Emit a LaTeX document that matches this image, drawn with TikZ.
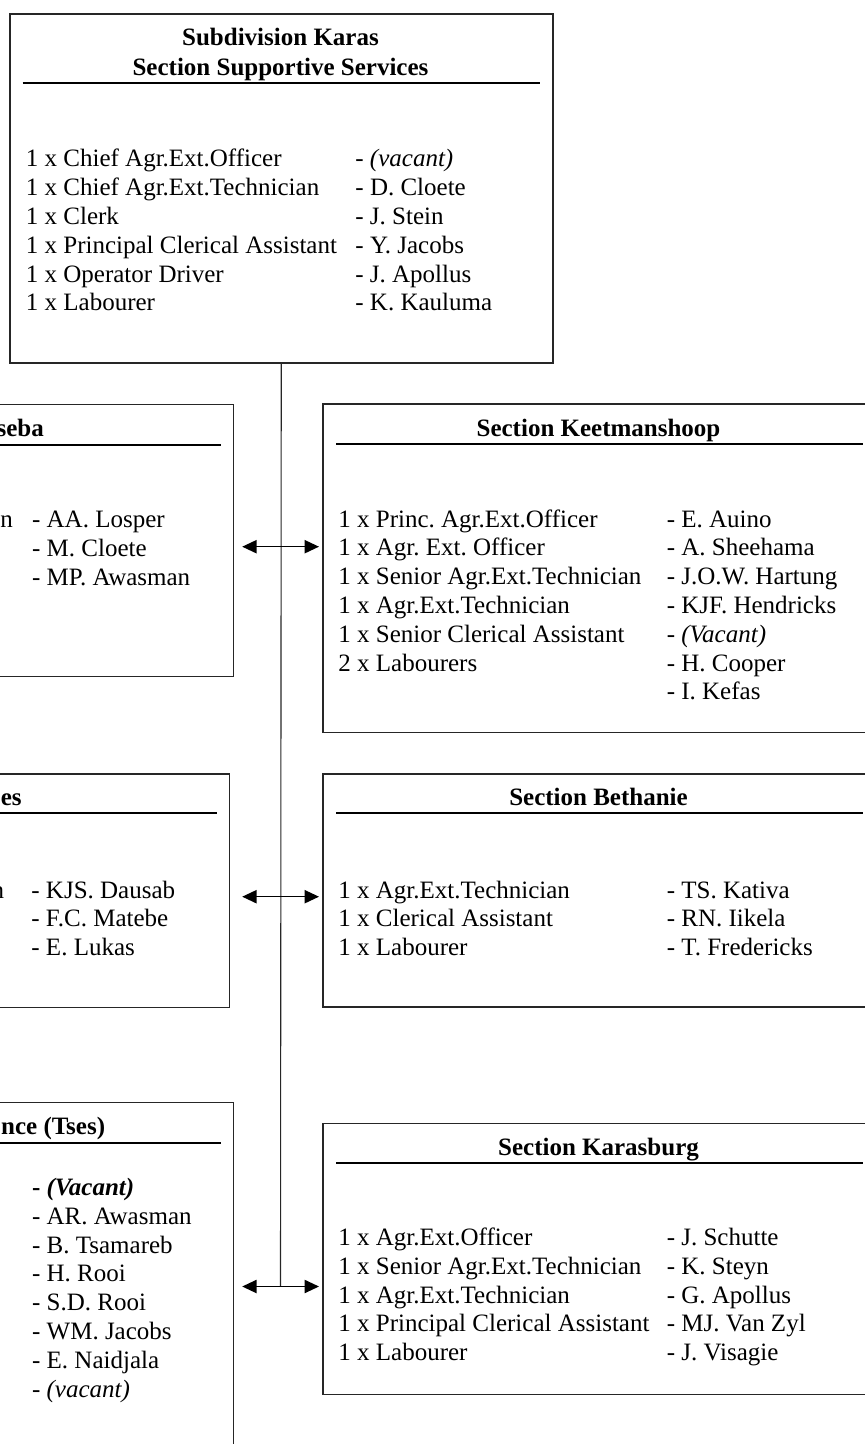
\documentclass[tikz,border=0pt]{standalone}
\usepackage{fontspec}
\setmainfont{Liberation Serif}
\usetikzlibrary{arrows.meta,calc}
\frenchspacing

\begin{document}
\begin{tikzpicture}[x=0.5pt, y=-0.5pt, >={Triangle[length=7.2pt,width=6.6pt]},
  every node/.style={inner sep=0pt, font=\fontsize{12.5pt}{14.4pt}\selectfont}]
\tikzstyle{secbox}=[draw=black!85, line width=0.75pt, anchor=north west, minimum width=276.5pt]
\tikzstyle{sechead}=[anchor=base, font=\fontsize{12.5pt}{14.4pt}\selectfont\bfseries]
\tikzstyle{seccut}=[sechead, anchor=base east]
\tikzstyle{staffcol}=[anchor=base west]
\tikzstyle{hrule}=[line width=1pt]
\tikzstyle{trunkline}=[draw=black!85, line width=0.55pt]
\tikzstyle{twoway}=[<->, line width=0.75pt]
\useasboundingbox (0,0) rectangle (865,1444);
\clip (0,0) rectangle (865,1444);

% subdivision
\node[secbox, minimum width=271.5pt, minimum height=174.6pt] (karas) at (9,13.3) {};
\node[sechead] (karashead) at (280.5,45.5) {Subdivision Karas};
\node[sechead] (supporthead) at (280.5,75.5) {Section Supportive Services};
\draw[hrule] ($(karas.north west)+(13.7,69.4)$) -- ($(karas.north east)+(-13.7,69.4)$);
\node[staffcol] (karasstaff) at (25.5,167) {\begin{tabular}[t]{@{}p{164.75pt}@{}l@{}}
1 x Chief Agr.Ext.Officer & - \textit{(vacant)}\\
1 x Chief Agr.Ext.Technician & - D. Cloete\\
1 x Clerk & - J. Stein\\
1 x Principal Clerical Assistant & - Y. Jacobs\\
1 x Operator Driver & - J. Apollus\\
1 x Labourer & - K. Kauluma
\end{tabular}};

% right column
\node[secbox, minimum height=164.2pt] (keet) at (322,403.3) {};
\node[sechead] (keethead) at (598.5,436) {Section Keetmanshoop};
\draw[hrule] ($(keet.north west)+(14,41)$) -- ($(keet.north east)+(-14,41)$);
\node[staffcol] (keetstaff) at (338,527) {\begin{tabular}[t]{@{}p{164.2pt}@{}l@{}}
1 x Princ. Agr.Ext.Officer & - E. Auino\\
1 x Agr. Ext. Officer & - A. Sheehama\\
1 x Senior Agr.Ext.Technician & - J.O.W. Hartung\\
1 x Agr.Ext.Technician & - KJF. Hendricks\\
1 x Senior Clerical Assistant & - \textit{(Vacant)}\\
2 x Labourers & - H. Cooper\\
 & - I. Kefas
\end{tabular}};

\node[secbox, minimum height=116.5pt] (bethanie) at (322,773.3) {};
\node[sechead] (bethhead) at (598.5,805) {Section Bethanie};
\draw[hrule] ($(bethanie.north west)+(14,40)$) -- ($(bethanie.north east)+(-14,40)$);
\node[staffcol] (bethstaff) at (338,898) {\begin{tabular}[t]{@{}p{164.2pt}@{}l@{}}
1 x Agr.Ext.Technician & - TS. Kativa\\
1 x Clerical Assistant & - RN. Iikela\\
1 x Labourer & - T. Fredericks
\end{tabular}};

\node[secbox, minimum height=135.6pt] (karasburg) at (322,1122.7) {};
\node[sechead] (karasburghead) at (598.5,1155) {Section Karasburg};
\draw[hrule] ($(karasburg.north west)+(14,40.6)$) -- ($(karasburg.north east)+(-14,40.6)$);
\node[staffcol] (karasburgstaff) at (338,1245.5) {\begin{tabular}[t]{@{}p{164.2pt}@{}l@{}}
1 x Agr.Ext.Officer & - J. Schutte\\
1 x Senior Agr.Ext.Technician & - K. Steyn\\
1 x Agr.Ext.Technician & - G. Apollus\\
1 x Principal Clerical Assistant & - MJ. Van Zyl\\
1 x Labourer & - J. Visagie
\end{tabular}};

% left column (cut off by the page edge)
\node[secbox, minimum height=136pt] (west1) at (-320.5,403.5) {};
\node[seccut] (west1head) at (44.3,436) {seba};
\draw[hrule] ($(west1.north west)+(13.5,41)$) -- ($(west1.north east)+(-13.5,41)$);
\node[anchor=base east] (west1cut) at (13.4,527.5) {n};
\node[staffcol] (west1staff) at (31.7,527.5) {\begin{tabular}[t]{@{}l@{}}
- AA. Losper\\
- M. Cloete\\
- MP. Awasman
\end{tabular}};

\node[secbox, minimum height=116.7pt] (west2) at (-324.5,773.3) {};
\node[seccut] (west2head) at (22,805) {es};
\draw[hrule] ($(west2.north west)+(13.5,40)$) -- ($(west2.north east)+(-13.5,40)$);
\node[anchor=base east] (west2cut) at (4.4,898) {n};
\node[staffcol] (west2staff) at (31,898) {\begin{tabular}[t]{@{}l@{}}
- KJS. Dausab\\
- F.C. Matebe\\
- E. Lukas
\end{tabular}};

\node[secbox, minimum height=180pt] (west3) at (-320.5,1101.7) {};
\node[seccut] (west3head) at (105.5,1134.5) {nce (Tses)};
\draw[hrule] ($(west3.north west)+(13.5,41)$) -- ($(west3.north east)+(-13.5,41)$);
\node[staffcol] (west3staff) at (31.7,1195.5) {\begin{tabular}[t]{@{}l@{}}
\textbf{- \textit{(Vacant)}}\\
- AR. Awasman\\
- B. Tsamareb\\
- H. Rooi\\
- S.D. Rooi\\
- WM. Jacobs\\
- E. Naidjala\\
- \textit{(vacant)}
\end{tabular}};

% connectors
\coordinate (j1) at (280.5,546.7);
\coordinate (j2) at (280.5,896.7);
\coordinate (j3) at (280.5,1286.5);
\draw[trunkline] (karas.south) -- (j3);
\draw[twoway, shorten <=4.1pt, shorten >=1.5pt] (j1 -| west1.east) -- (j1 -| keet.west);
\draw[twoway, shorten <=6.1pt, shorten >=1.5pt] (j2 -| west2.east) -- (j2 -| bethanie.west);
\draw[twoway, shorten <=4.1pt, shorten >=1.5pt] (j3 -| west3.east) -- (j3 -| karasburg.west);
\end{tikzpicture}
\end{document}
